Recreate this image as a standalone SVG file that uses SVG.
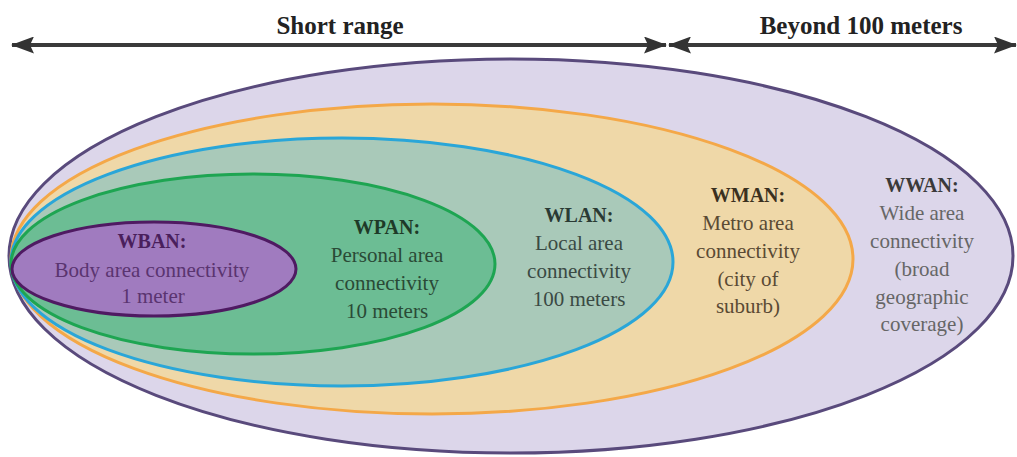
<svg xmlns="http://www.w3.org/2000/svg" width="1017" height="457" viewBox="0 0 1017 457">
<defs>
<marker id="ah" viewBox="0 0 23 17" refX="22" refY="8.5" markerWidth="23" markerHeight="17" orient="auto-start-reverse" markerUnits="userSpaceOnUse">
<path d="M0,0 L23,8.5 L0,17 L4,8.5 z" fill="#333333"/>
</marker>
<style>
.title{font-size:25px;font-weight:bold;fill:#222}
.h{font-size:20px;font-weight:bold}
.b{font-size:21px}
.arr{stroke:#3a3a3a;stroke-width:4;fill:none}
</style>
</defs>
<rect width="1017" height="457" fill="#ffffff"/>
<g font-family="Liberation Serif" text-anchor="middle">
<g id="ranges">
<text class="title" x="340" y="34" font-family="Liberation Serif">Short range</text>
<text class="title" x="861" y="34" font-family="Liberation Serif">Beyond 100 meters</text>
</g>
<g id="connectors">
<line class="arr" x1="12" y1="45" x2="666" y2="45" marker-start="url(#ah)" marker-end="url(#ah)"/>
<line class="arr" x1="669" y1="45" x2="1016" y2="45" marker-start="url(#ah)" marker-end="url(#ah)"/>
</g>
<g id="wwan" font-family="Liberation Serif">
<ellipse cx="511" cy="256" rx="502" ry="197" fill="#dcd6ea" stroke="#594a7c" stroke-width="3"/>
<text class="h" x="922" y="192" fill="#3a3a3a">WWAN:</text>
<text class="b" fill="#666" x="922" y="220">Wide area</text>
<text class="b" fill="#666" x="922" y="248">connectivity</text>
<text class="b" fill="#666" x="922" y="276">(broad</text>
<text class="b" fill="#666" x="922" y="304">geographic</text>
<text class="b" fill="#666" x="922" y="331">coverage)</text>
</g>
<g id="wman" font-family="Liberation Serif">
<ellipse cx="432" cy="259" rx="421" ry="155" fill="#efd8a8" stroke="#f4a848" stroke-width="3"/>
<text class="h" x="748" y="202" fill="#3a3020">WMAN:</text>
<text class="b" fill="#5a4a34" x="748" y="230">Metro area</text>
<text class="b" fill="#5a4a34" x="748" y="258">connectivity</text>
<text class="b" fill="#5a4a34" x="748" y="286">(city of</text>
<text class="b" fill="#5a4a34" x="748" y="313">suburb)</text>
</g>
<g id="wlan" font-family="Liberation Serif">
<ellipse cx="342" cy="262" rx="331" ry="124" fill="#a9c9b9" stroke="#2aa6d8" stroke-width="3"/>
<text class="h" x="579" y="222" fill="#2a3a34">WLAN:</text>
<text class="b" fill="#3a4a44" x="579" y="250">Local area</text>
<text class="b" fill="#3a4a44" x="579" y="278">connectivity</text>
<text class="b" fill="#3a4a44" x="579" y="306">100 meters</text>
</g>
<g id="wpan" font-family="Liberation Serif">
<ellipse cx="253" cy="264" rx="242" ry="90" fill="#6cbd94" stroke="#1ea552" stroke-width="3"/>
<text class="h" x="387" y="234" fill="#1e3a28">WPAN:</text>
<text class="b" fill="#2a4a36" x="387" y="262">Personal area</text>
<text class="b" fill="#2a4a36" x="387" y="290">connectivity</text>
<text class="b" fill="#2a4a36" x="387" y="318">10 meters</text>
</g>
<g id="wban" font-family="Liberation Serif">
<ellipse cx="154" cy="269" rx="142" ry="47" fill="#a07bbf" stroke="#4f1a62" stroke-width="3"/>
<text class="h" x="152" y="248" fill="#4a1f5c">WBAN:</text>
<text class="b" fill="#5a3470" x="152" y="277">Body area connectivity</text>
<text class="b" fill="#5a3470" x="153" y="303">1 meter</text>
</g>
</g>
</svg>
